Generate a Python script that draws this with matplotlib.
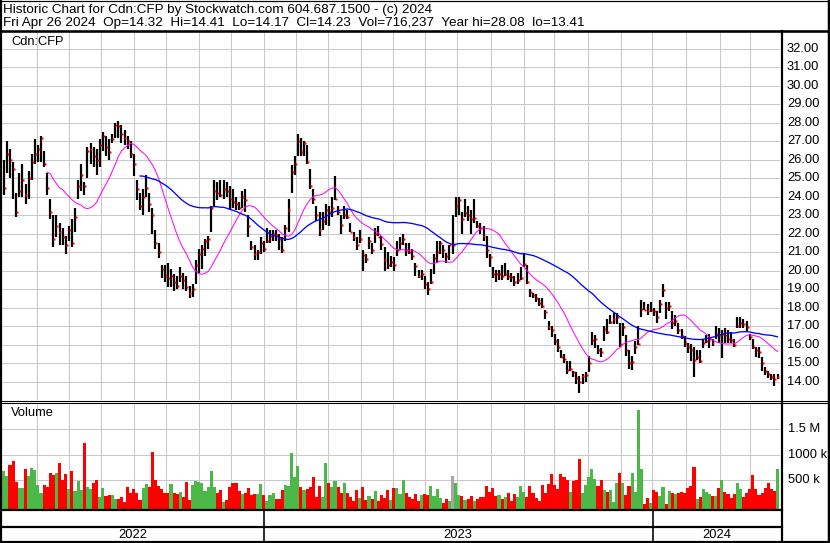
import matplotlib
matplotlib.use("Agg")
import matplotlib.pyplot as plt
import matplotlib.transforms as mtransforms
import numpy as np
import pandas as pd

# ---------------- data (2-trading-day bars, May 2022 - Apr 26 2024) ----------------
high = [
    26.0, 27.0, 26.6, 25.9, 24.2, 25.3, 25.8, 24.7, 25.4, 26.3,
    27.1, 26.8, 27.3, 26.5, 25.3, 23.9, 23.0, 23.0, 22.6, 22.3,
    21.9, 22.4, 22.8, 23.4, 24.9, 25.8, 24.8, 26.7, 26.9, 26.7,
    26.6, 27.1, 27.5, 27.3, 27.1, 27.4, 28.0, 28.08, 27.9, 27.6,
    27.3, 27.0, 26.3, 24.9, 24.2, 24.4, 25.2, 24.2, 23.4, 22.2,
    21.5, 20.3, 20.3, 20.4, 20.1, 19.8, 19.7, 20.2, 19.9, 19.7,
    19.2, 19.3, 20.6, 21.2, 21.4, 21.7, 21.9, 23.5, 24.9, 24.8,
    24.9, 24.9, 24.8, 24.6, 24.4, 24.0, 23.7, 24.3, 24.4, 23.0,
    21.6, 21.4, 21.1, 21.8, 21.6, 22.3, 22.2, 22.2, 22.2, 22.0,
    21.85, 22.5, 23.9, 25.7, 26.2, 27.4, 27.2, 27.0, 26.8, 25.5,
    24.4, 23.5, 23.2, 23.2, 23.6, 23.5, 24.0, 25.1, 23.5, 23.0,
    23.5, 23.3, 22.6, 22.1, 21.85, 22.2, 21.1, 20.9, 21.8, 21.5,
    22.3, 22.4, 21.9, 21.3, 21.0, 20.8, 20.75, 21.6, 21.8, 22.0,
    21.5, 21.5, 21.2, 20.4, 20.05, 20.05, 19.7, 19.4, 20.1, 20.9,
    21.6, 21.6, 21.4, 20.95, 21.4, 23.0, 24.0, 24.0, 23.2, 23.9,
    23.5, 23.3, 23.9, 22.7, 22.6, 22.4, 21.9, 20.9, 20.2, 20.05,
    20.05, 20.3, 20.4, 20.05, 19.9, 19.7, 19.9, 20.2, 20.95, 20.3,
    19.0, 18.8, 18.75, 18.5, 18.5, 17.9, 17.3, 17.0, 16.6, 16.3,
    15.7, 15.5, 15.1, 15.1, 14.6, 14.5, 14.3, 14.4, 14.5, 15.4,
    16.7, 16.5, 16.0, 15.8, 17.0, 17.4, 17.6, 17.7, 17.7, 17.2,
    17.15, 16.5, 15.7, 15.4, 16.2, 17.0, 18.4, 18.3, 18.2, 18.3,
    18.0, 17.8, 18.4, 19.3, 18.3, 18.3, 17.85, 17.6, 17.15, 16.85,
    16.45, 16.1, 16.05, 15.85, 15.7, 15.7, 16.3, 16.5, 16.6, 16.3,
    17.0, 16.9, 16.8, 16.9, 16.8, 16.7, 16.3, 17.5, 17.5, 17.4,
    17.3, 16.6, 16.3, 15.9, 15.9, 15.35, 14.8, 14.6, 14.4, 14.4,
    14.41,
]
low = [
    24.1, 25.3, 25.0, 23.9, 22.9, 24.0, 24.0, 23.6, 23.9, 24.9,
    25.8, 25.9, 25.9, 25.6, 24.1, 22.8, 21.3, 21.8, 21.4, 21.4,
    20.9, 21.6, 21.3, 22.1, 23.9, 24.3, 24.1, 25.0, 25.8, 25.6,
    25.2, 25.6, 26.5, 26.2, 26.0, 26.9, 27.2, 27.2, 26.9, 26.8,
    26.6, 26.1, 25.1, 23.8, 23.3, 23.0, 24.0, 23.2, 22.0, 21.2,
    20.7, 19.6, 19.4, 19.1, 19.1, 18.9, 19.0, 19.4, 19.0, 18.9,
    18.5, 18.6, 19.3, 19.9, 20.1, 20.8, 21.2, 22.1, 23.5, 23.8,
    24.0, 23.9, 24.0, 23.3, 23.4, 23.3, 23.3, 23.4, 23.2, 21.8,
    21.1, 20.6, 20.6, 20.9, 21.0, 21.5, 21.5, 21.6, 21.6, 21.1,
    20.95, 21.6, 22.1, 24.2, 25.2, 26.2, 26.2, 26.2, 25.8, 24.4,
    23.6, 22.7, 21.9, 22.2, 22.5, 22.4, 22.9, 23.8, 23.0, 22.0,
    22.8, 22.8, 22.1, 21.6, 21.1, 21.5, 20.0, 20.4, 21.2, 20.9,
    21.5, 21.9, 21.1, 20.0, 20.1, 20.2, 20.0, 20.8, 21.1, 21.4,
    20.8, 20.9, 20.6, 19.7, 19.6, 19.5, 19.0, 18.7, 19.3, 19.8,
    20.4, 20.9, 20.7, 20.4, 20.6, 20.9, 22.9, 23.0, 22.0, 22.9,
    22.7, 22.0, 22.6, 22.3, 22.0, 21.6, 20.7, 20.2, 19.6, 19.4,
    19.5, 19.5, 19.7, 19.5, 19.4, 19.2, 19.3, 19.5, 20.2, 19.3,
    18.6, 18.5, 18.3, 18.1, 18.0, 17.4, 16.8, 16.4, 16.0, 15.6,
    15.3, 15.0, 14.4, 14.6, 14.25, 13.9, 13.41, 13.9, 14.0, 14.5,
    16.0, 15.8, 15.5, 15.35, 16.2, 16.6, 17.1, 17.1, 17.1, 15.9,
    16.45, 15.4, 14.7, 14.65, 15.5, 16.0, 17.5, 17.9, 17.6, 17.75,
    17.55, 17.2, 17.7, 18.6, 17.4, 17.8, 16.85, 17.0, 16.6, 16.3,
    15.9, 15.55, 15.1, 14.25, 15.15, 15.0, 15.8, 16.1, 15.8, 15.95,
    16.3, 16.1, 15.3, 16.1, 16.1, 16.1, 15.9, 16.9, 16.9, 16.9,
    16.75, 16.25, 15.75, 15.35, 15.3, 14.6, 14.35, 14.2, 14.1, 13.75,
    14.17,
]
close = [
    24.5, 26.3, 26.0, 25.5, 23.2, 24.3, 24.9, 24.1, 25.0, 25.9,
    26.3, 26.6, 27.2, 25.8, 24.5, 23.2, 21.7, 22.4, 22.1, 21.8,
    21.4, 22.2, 21.5, 22.9, 24.6, 25.2, 24.6, 26.5, 26.6, 26.2,
    26.0, 26.8, 27.3, 26.7, 26.4, 27.1, 27.9, 27.85, 27.4, 27.2,
    27.0, 26.3, 25.8, 24.4, 23.5, 24.0, 24.5, 23.6, 23.0, 21.5,
    21.0, 20.1, 19.7, 19.6, 19.7, 19.4, 19.2, 19.7, 19.5, 19.1,
    18.8, 19.0, 20.3, 20.9, 21.2, 21.6, 21.7, 23.4, 24.3, 24.2,
    24.1, 24.4, 24.3, 23.9, 23.7, 23.6, 23.4, 24.0, 23.8, 22.4,
    21.3, 20.9, 21.0, 21.5, 21.2, 21.6, 21.9, 22.0, 21.95, 21.7,
    21.1, 22.3, 23.3, 25.35, 25.8, 27.0, 26.4, 26.9, 25.9, 24.6,
    23.9, 23.0, 22.2, 22.7, 23.3, 23.2, 23.4, 23.9, 23.2, 22.5,
    23.0, 22.9, 22.1, 21.85, 21.4, 21.7, 20.85, 20.65, 21.6, 21.1,
    22.0, 21.85, 21.45, 20.6, 20.3, 20.45, 20.3, 21.1, 21.5, 21.7,
    21.1, 21.0, 20.8, 20.25, 19.7, 19.8, 19.3, 19.0, 19.4, 20.7,
    21.0, 21.5, 21.1, 20.8, 21.4, 21.4, 23.5, 23.8, 22.8, 23.1,
    23.0, 22.8, 22.85, 22.4, 22.3, 21.9, 21.1, 20.75, 19.85, 19.8,
    19.85, 19.7, 19.85, 19.7, 19.65, 19.4, 19.5, 19.6, 20.35, 19.4,
    18.85, 18.7, 18.5, 18.25, 18.1, 17.75, 16.95, 16.8, 16.2, 15.85,
    15.35, 15.25, 14.65, 14.7, 14.5, 14.2, 14.0, 14.3, 14.35, 15.0,
    16.25, 16.3, 15.7, 15.6, 16.85, 16.7, 17.25, 17.4, 17.5, 16.05,
    16.95, 15.7, 15.0, 15.05, 15.9, 16.05, 17.95, 17.9, 17.85, 17.9,
    17.85, 17.5, 18.2, 18.95, 18.0, 18.1, 17.2, 17.3, 16.8, 16.45,
    16.1, 15.9, 15.7, 15.2, 15.35, 15.1, 16.1, 16.2, 16.3, 16.1,
    16.6, 16.5, 16.6, 16.5, 16.3, 16.25, 16.0, 17.0, 17.15, 17.1,
    16.95, 16.4, 15.9, 15.7, 15.6, 15.0, 14.6, 14.4, 14.25, 14.15,
    14.23,
]
volume_k = [
    690, 585, 800, 880, 475, 350, 350, 715, 585, 740,
    700, 410, 250, 400, 365, 650, 605, 650, 845, 505,
    625, 325, 690, 300, 490, 310, 1235, 365, 325, 440,
    505, 180, 345, 200, 215, 215, 130, 135, 180, 85,
    365, 245, 325, 260, 115, 345, 430, 375, 1060, 505,
    390, 325, 245, 260, 420, 245, 235, 280, 180, 475,
    115, 400, 490, 475, 440, 300, 360, 690, 365, 260,
    310, 85, 115, 375, 440, 455, 300, 235, 245, 345,
    215, 225, 230, 430, 215, 105, 215, 245, 135, 135,
    310, 410, 390, 1040, 560, 780, 375, 310, 325, 365,
    560, 180, 390, 170, 830, 440, 365, 490, 365, 260,
    440, 245, 170, 105, 310, 150, 365, 115, 195, 135,
    290, 100, 215, 150, 310, 115, 345, 345, 230, 505,
    260, 180, 130, 230, 100, 215, 235, 215, 390, 200,
    325, 150, 60, 145, 100, 585, 455, 215, 200, 115,
    135, 195, 105, 130, 170, 170, 390, 280, 345, 195,
    215, 130, 170, 260, 100, 235, 170, 390, 280, 180,
    390, 260, 150, 105, 410, 245, 430, 625, 410, 325,
    625, 560, 505, 280, 490, 505, 910, 245, 410, 560,
    720, 520, 390, 505, 310, 265, 310, 85, 455, 635,
    455, 215, 390, 650, 280, 1870, 720, 30, 150, 50,
    310, 265, 195, 365, 40, 290, 260, 230, 260, 280,
    245, 345, 390, 765, 130, 180, 330, 265, 235, 200,
    195, 345, 505, 265, 235, 150, 230, 455, 330, 180,
    245, 325, 605, 330, 215, 245, 345, 440, 325, 300,
    716.237,
]
# month boundaries (bar-index units) for the vertical grid
month_grid = [10.55, 21.05, 31.4, 42.05, 52.4, 63.05, 73.4, 84.05, 94.4, 104.75,
              115.4, 125.75, 136.05, 146.4, 157.4, 168.05, 177.75, 188.75, 199.4,
              209.4, 220.4, 231.4, 241.1]
year_labels = ["2022", "2023", "2024"]
price_ticks = list(range(14, 33))
vol_ticks = [500000, 1000000, 1500000]
vol_tick_labels = ["500 k", "1000 k", "1.5 M"]
ma_short, ma_long = 15, 45
title_1 = "Historic Chart for Cdn:CFP by Stockwatch.com 604.687.1500 - (c) 2024"
title_2 = ("Fri Apr 26 2024  Op=14.32  Hi=14.41  Lo=14.17  Cl=14.23  "
           "Vol=716,237  Year hi=28.08  lo=13.41")
symbol = "Cdn:CFP"

# ---------------- figure ----------------
W, H = 830, 543
fig = plt.figure(figsize=(W / 100, H / 100), dpi=100)
FONT = "Liberation Sans"
FS = 9.3
FS_T = 9.7
GRID = "#c8c8c8"
PX = 0.72  # points per pixel


def box(x0, y0, x1, y1):
    return [x0 / W, 1 - y1 / H, (x1 - x0) / W, (y1 - y0) / H]


n = len(close)
xs = np.arange(n)
c = np.array(close)
v = np.array(volume_k) * 1000.0
XL = (-0.6, n - 0.2)

# price panel
ax = fig.add_axes(box(2, 31.5, 780, 400))
ax.set_xlim(*XL)
ax.set_ylim(13.01, 32.94)
ax.set_yticks(price_ticks)
ax.set_xticks(month_grid)
ax.grid(True, color=GRID, lw=1.0 * PX)
ax.set_axisbelow(True)
ax.tick_params(length=0, labelleft=False, labelbottom=False)
for s in ax.spines.values():
    s.set_visible(False)
ax.vlines(xs, low, high, color="black", lw=2.2 * PX, zorder=3)
ax.plot(xs + 0.3, c, ls="none", marker="s", ms=2.3 * PX, color="#ff0000",
        mec="none", zorder=4)
ma1 = pd.Series(c).rolling(ma_short).mean()
ma2 = pd.Series(c).rolling(ma_long).mean()
ax.plot(xs, ma1, color="#ff00ff", lw=1.0 * PX, zorder=5)
ax.plot(xs, ma2, color="#0000ff", lw=1.3 * PX, zorder=5)
ax.text(9 / 778, 1 - 10.2 / 368.5, symbol, transform=ax.transAxes, fontsize=FS,
        family=FONT, va="center", ha="left")

# right price labels
tr = mtransforms.blended_transform_factory(fig.transFigure, ax.transData)
for p in price_ticks:
    fig.text(787 / W, p, f"{p:.2f}", transform=tr, fontsize=FS, family=FONT,
             va="center", ha="left")

# volume panel
vb = -59500
av = fig.add_axes(box(2, 402.5, 780, 509))
av.set_xlim(*XL)
av.set_ylim(vb, 2016000)
av.set_yticks(vol_ticks)
av.set_xticks(month_grid)
av.grid(True, color=GRID, lw=1.0 * PX)
av.set_axisbelow(True)
av.tick_params(length=0, labelleft=False, labelbottom=False)
for s in av.spines.values():
    s.set_visible(False)
diff = np.diff(c, prepend=c[0] - 0.1)
cols = np.where(diff > 0, "#4cb848", np.where(diff < 0, "#ff0000", "#a6a6a6"))
av.bar(xs, v - vb, bottom=vb, width=1.0, color=cols, linewidth=0, zorder=3)
av.text(9 / 778, 1 - 10.5 / 106.5, "Volume", transform=av.transAxes, fontsize=FS,
        family=FONT, va="center", ha="left")
trv = mtransforms.blended_transform_factory(fig.transFigure, av.transData)
for val, lab in zip(vol_ticks, vol_tick_labels):
    fig.text(788 / W, val, lab, transform=trv, fontsize=FS, family=FONT,
             va="center", ha="left")

# overlay for frame lines and header / footer text
ov = fig.add_axes([0, 0, 1, 1], zorder=10)
ov.set_xlim(0, W)
ov.set_ylim(H, 0)
ov.axis("off")
K = "black"
ov.plot([0, W], [0.5, 0.5], color=K, lw=1.2 * PX)
ov.plot([1, 1], [0, H], color=K, lw=2.2 * PX)
ov.plot([828.8, 828.8], [0, H], color=K, lw=2.5 * PX)
ov.plot([0, W], [541.5, 541.5], color=K, lw=2.2 * PX)
ov.plot([0, W], [30.5, 30.5], color=K, lw=2.6 * PX)
ov.plot([781.5, 781.5], [30.5, H], color=K, lw=2.2 * PX)
ov.plot([0, W], [400.5, 400.5], color=K, lw=1.1 * PX)
ov.plot([0, W], [402.6, 402.6], color=K, lw=1.1 * PX)
ov.plot([0, 781.5], [509.6, 509.6], color=K, lw=2.2 * PX)
ov.plot([0, 781.5], [526.5, 526.5], color=K, lw=2.2 * PX)
for xb in (263.5, 652.5):
    ov.plot([xb, xb], [509.6, 541.5], color=K, lw=1.6 * PX)
for lab, xc in zip(year_labels, (133, 458, 717)):
    ov.text(xc, 534.5, lab, fontsize=FS, family=FONT, ha="center", va="center")
ov.text(3, 12.6, title_1, fontsize=FS_T, family=FONT, ha="left", va="baseline")
ov.text(3, 26.2, title_2, fontsize=FS_T, family=FONT, ha="left", va="baseline")

fig.savefig("out.png", dpi=100)
